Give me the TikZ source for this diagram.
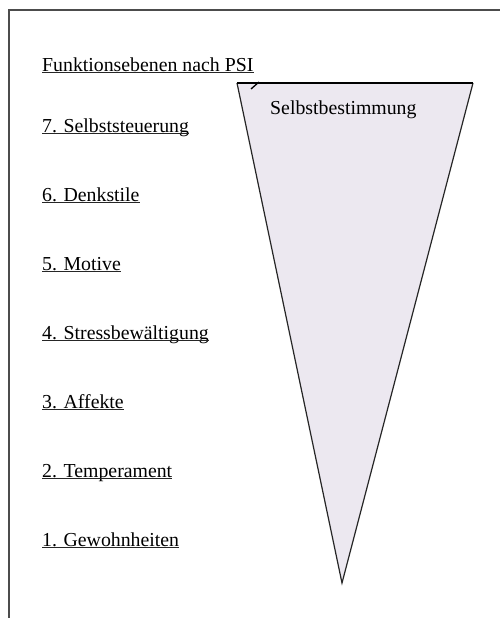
\documentclass[tikz,border=0pt]{standalone}
\usepackage{fontspec}
\setmainfont{Liberation Serif}
\begin{document}
\begin{tikzpicture}[x=1pt,y=-1pt,
  lvl/.style={anchor=base west,inner sep=0pt,font=\fontsize{19.8}{22}\selectfont},
  uline/.style={line width=0.9pt,black!85},
  frameline/.style={draw=black!70,line width=1.1pt}]
\useasboundingbox (0,0) rectangle (500,618);
\fill[white] (0,0) rectangle (500,618);
\draw[frameline] (9,618) -- (9,10) -- (500,10);
% triangle
\coordinate (tl) at (237,83);
\coordinate (tr) at (473,83);
\coordinate (ap) at (342,583);
\fill[fill={rgb,255:red,236;green,232;blue,240}] (tl) -- (tr) -- (ap) -- cycle;
\draw[line width=1.2pt,black!85] (tl) -- (ap) -- (tr);
\draw[line width=2.4pt,black] (tl) -- (tr);
\draw[line width=1.3pt,black] (251,89) -- (259,82);
\node[lvl] (sb) at (270,114) {Selbstbestimmung};
\foreach \n/\y/\t in {h/71/Funktionsebenen nach PSI, l7/132/7. Selbststeuerung,
  l6/201/6. Denkstile, l5/270/5. Motive, l4/339/4. Stressbewältigung,
  l3/408/3. Affekte, l2/477/2. Temperament, l1/546/1. Gewohnheiten}{
  \node[lvl] (\n) at (42,\y) {\t};
  \draw[uline] ([yshift=-1.2pt]\n.base west) -- ([yshift=-1.2pt]\n.base east);
}
\end{tikzpicture}
\end{document}
